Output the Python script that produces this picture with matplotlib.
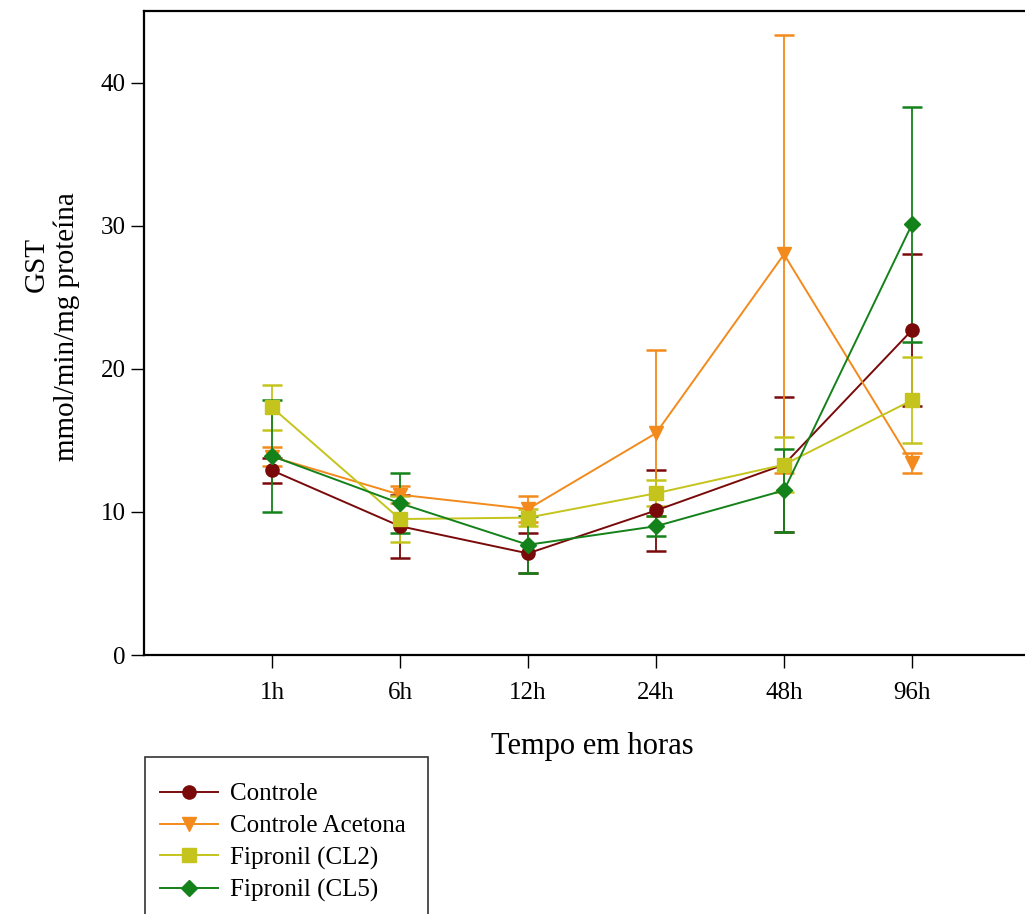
import matplotlib.pyplot as plt
import numpy as np
from matplotlib.patches import Rectangle
from matplotlib.lines import Line2D

plt.rcParams['font.family'] = ['Liberation Serif', 'DejaVu Serif']

tempos = ["1h", "6h", "12h", "24h", "48h", "96h"]

controle = [12.9, 9.0, 7.1, 10.1, 13.3, 22.7]
controle_err = [0.9, 2.2, 1.4, 2.8, 4.7, 5.3]

acetona = [13.85, 11.2, 10.2, 15.5, 28.0, 13.4]
acetona_err = [0.65, 0.6, 0.9, 5.8, 15.3, 0.7]

cl2 = [17.3, 9.5, 9.6, 11.3, 13.3, 17.8]
cl2_err = [1.6, 1.6, 0.6, 0.9, 1.9, 3.0]

cl5 = [13.9, 10.6, 7.7, 9.0, 11.5, 30.1]
cl5_err = [3.9, 2.1, 2.0, 0.7, 2.9, 8.2]

series = [
    ("Controle", controle, controle_err, "#7a0a0a", "o"),
    ("Controle Acetona", acetona, acetona_err, "#f28a1c", "v"),
    ("Fipronil (CL2)", cl2, cl2_err, "#c4c41c", "s"),
    ("Fipronil (CL5)", cl5, cl5_err, "#14821a", "D"),
]

W, H = 1025, 914
fig = plt.figure(figsize=(W / 100, H / 100), dpi=100)
ax = fig.add_axes([144 / W, 1 - 655 / H, 896 / W, 644 / H])

x = np.arange(1, len(tempos) + 1)
handles = []
for name, vals, errs, col, mk in series:
    ms = 9.5 if mk != "D" else 8.5
    ax.errorbar(x, vals, yerr=errs, color=col, ecolor=col, marker=mk,
                markersize=ms, linewidth=1.4, elinewidth=1.3,
                capsize=7, capthick=1.8)
    handles.append(Line2D([], [], color=col, marker=mk, markersize=ms,
                          linewidth=1.4, label=name))

ax.set_xlim(0, 7)
ax.set_ylim(0, 45)
ax.set_xticks(x)
ax.set_xticklabels(tempos)
ax.set_yticks([0, 10, 20, 30, 40])
ax.tick_params(axis='both', direction='out', length=9.5, width=1, labelsize=18)
ax.tick_params(axis='y', pad=3.6)
ax.tick_params(axis='x', pad=10)
for s in ax.spines.values():
    s.set_linewidth(1.6)

ax.set_xlabel("Tempo em horas", fontsize=22)
ax.xaxis.set_label_coords(0.5, -0.12)

# y label: two separate lines, as in the original
fig.text(37 / W, 1 - 264 / H, "GST", rotation=90, fontsize=21,
         ha="center", va="center")
fig.text(67 / W, 1 - 327 / H, "mmol/min/mg proteína", rotation=90, fontsize=21,
         ha="center", va="center")

fig.patches.append(Rectangle((145 / W, -0.01), (428 - 145) / W, (914 - 757) / H + 0.01,
                             transform=fig.transFigure, fill=False,
                             edgecolor="#333333", linewidth=1.2))
fig.legend(handles=handles, loc="upper left",
           bbox_to_anchor=(160 / W, 1 - 783 / H), frameon=False,
           fontsize=18, handlelength=2.3, labelspacing=0.37,
           handletextpad=0.5, borderaxespad=0, borderpad=0)

fig.savefig("out.png", dpi=100)
